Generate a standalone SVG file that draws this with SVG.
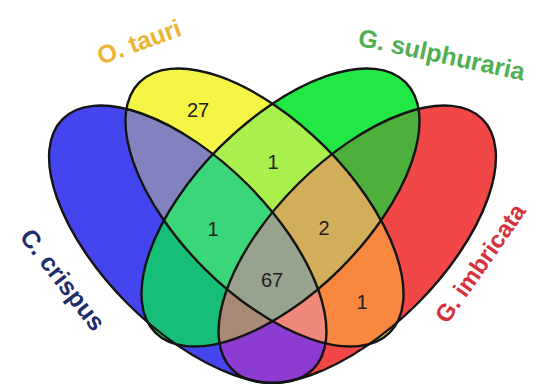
<svg xmlns="http://www.w3.org/2000/svg" width="534" height="384" viewBox="0 0 534 384">
<style>
.o{fill:none;stroke:#141414;stroke-width:2.4}
.n{font-family:"Liberation Sans",Arial,sans-serif;font-size:20px;fill:#222;text-anchor:middle}
.l{font-family:"Liberation Sans",Arial,sans-serif;font-size:25px;font-weight:bold;text-anchor:middle}
</style>
<defs>
<ellipse id="B" cx="187.75" cy="244.25" rx="177" ry="84.5" transform="rotate(45 187.75 244.25)"/>
<ellipse id="Y" cx="264.5" cy="207.5" rx="177" ry="85.6" transform="rotate(45 264.5 207.5)"/>
<ellipse id="G" cx="280.5" cy="207.5" rx="177" ry="85.6" transform="rotate(-45 280.5 207.5)"/>
<ellipse id="R" cx="357.25" cy="244.25" rx="177" ry="84.5" transform="rotate(-45 357.25 244.25)"/>
<clipPath id="cB"><use href="#B"/></clipPath>
<clipPath id="cY"><use href="#Y"/></clipPath>
<clipPath id="cG"><use href="#G"/></clipPath>
</defs>
<g id="regions">
<use href="#B" fill="#4545EF"/>
<use href="#Y" fill="#F5F546"/>
<use href="#G" fill="#22E846"/>
<use href="#R" fill="#F24747"/>
<g clip-path="url(#cB)"><use href="#Y" fill="#8282BE"/></g>
<g clip-path="url(#cB)"><use href="#G" fill="#16BE78"/></g>
<g clip-path="url(#cB)"><use href="#R" fill="#8C3CD0"/></g>
<g clip-path="url(#cY)"><use href="#G" fill="#AAF04C"/></g>
<g clip-path="url(#cY)"><use href="#R" fill="#F8873F"/></g>
<g clip-path="url(#cG)"><use href="#R" fill="#4DAF3C"/></g>
<g clip-path="url(#cB)"><g clip-path="url(#cY)"><use href="#G" fill="#3CD67A"/></g></g>
<g clip-path="url(#cB)"><g clip-path="url(#cY)"><use href="#R" fill="#EE8878"/></g></g>
<g clip-path="url(#cB)"><g clip-path="url(#cG)"><use href="#R" fill="#A88A76"/></g></g>
<g clip-path="url(#cY)"><g clip-path="url(#cG)"><use href="#R" fill="#D2AE5A"/></g></g>
<g clip-path="url(#cB)"><g clip-path="url(#cY)"><g clip-path="url(#cG)"><use href="#R" fill="#97A38D"/></g></g></g>
</g>
<g id="set-c-crispus"><use href="#B" class="o"/><text class="l" fill="#1E2D6E" transform="translate(56 285) rotate(52)">C. crispus</text></g>
<g id="set-o-tauri"><use href="#Y" class="o"/><text class="l" fill="#EBB432" transform="translate(142 50) rotate(-20)">O. tauri</text></g>
<g id="set-g-sulphuraria"><use href="#G" class="o"/><text class="l" fill="#50AF50" transform="translate(440 63) rotate(12)">G. sulphuraria</text></g>
<g id="set-g-imbricata"><use href="#R" class="o"/><text class="l" fill="#D7303C" style="font-size:24px" transform="translate(487 268) rotate(-55)">G. imbricata</text></g>
<g id="counts">
<text class="n" x="198" y="117">27</text>
<text class="n" x="273" y="169">1</text>
<text class="n" x="213" y="235.5">1</text>
<text class="n" x="324" y="235">2</text>
<text class="n" x="272" y="286.5">67</text>
<text class="n" x="362" y="309">1</text>
</g>
</svg>
